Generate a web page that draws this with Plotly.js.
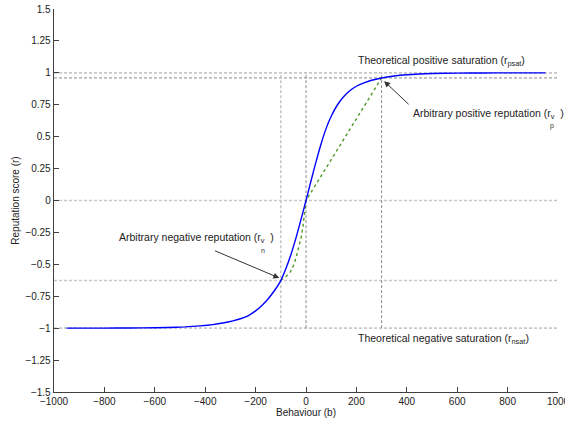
<!DOCTYPE html>
<html>
<head>
<meta charset="utf-8">
<script src="https://cdn.plot.ly/plotly-3.0.1.min.js"></script>
<style>
  html, body { margin: 0; padding: 0; background: #fff; }
  #chart { width: 565px; height: 421px; }
</style>
</head>
<body>
<div id="chart"></div>
<script>
// Reputation curve
const behaviour = [-950, -850, -750, -650, -550, -480, -420, -370, -330, -290, -260, -230, -200, -175, -150, -125, -100, -80, -60, -40, -20, 0, 20, 40, 60, 80, 100, 125, 150, 175, 200, 230, 260, 300, 350, 400, 450, 500, 600, 700, 800, 950];
const reputation = [-1.0, -1.0, -0.999, -0.998, -0.995, -0.99, -0.982, -0.972, -0.96, -0.943, -0.926, -0.903, -0.865, -0.823, -0.77, -0.705, -0.627, -0.535, -0.425, -0.295, -0.15, 0, 0.155, 0.305, 0.445, 0.565, 0.66, 0.75, 0.815, 0.862, 0.895, 0.922, 0.942, 0.96, 0.975, 0.985, 0.991, 0.995, 0.998, 0.999, 1.0, 1.0];

// Green dashed approximation path
const approxB = [-100, -78, -62, -49, -38.5, -28, -18.7, -12.1, -6.8, -3, 0, 300];
const approxR = [-0.627, -0.593, -0.559, -0.507, -0.441, -0.363, -0.284, -0.206, -0.127, -0.048, 0, 0.96];

// Reference values
const rPsat = 1, rNsat = -1, rVp = 0.96, rVn = -0.627;
const bVp = 300, bVn = -100, bZero = 0, rZero = 0;
const xRange = [-1000, 1000];
const yRange = [-1.5, 1.5];

const xTicks = [-1000, -800, -600, -400, -200, 0, 200, 400, 600, 800, 1000];
const xTickText = ['\u22121000', '\u2212800', '\u2212600', '\u2212400', '\u2212200', '0', '200', '400', '600', '800', '1000'];
const yTicks = [-1.5, -1.25, -1, -0.75, -0.5, -0.25, 0, 0.25, 0.5, 0.75, 1, 1.25, 1.5];
const yTickText = ['\u22121.5', '\u22121.25', '\u22121', '\u22120.75', '\u22120.5', '\u22120.25', '0', '0.25', '0.5', '0.75', '1', '1.25', '1.5'];

const light = {color: '#c8c8c8', width: 1.6, dash: '3px,2px'};
const dark = {color: '#8a8a8a', width: 1, dash: '3px,2px'};

function hline(y, style) {
  return {type: 'line', xref: 'x', yref: 'y', x0: xRange[0], x1: xRange[1], y0: y, y1: y, line: style, layer: 'below'};
}
function vline(x, style) {
  return {type: 'line', xref: 'x', yref: 'y', x0: x, x1: x, y0: rNsat, y1: rPsat, line: style, layer: 'below'};
}

const traces = [
  {x: approxB, y: approxR, mode: 'lines', line: {color: '#4f9a25', width: 1.4, dash: '3px,3px'}, hoverinfo: 'skip', showlegend: false},
  {x: behaviour, y: reputation, mode: 'lines', line: {color: '#0000ff', width: 1.4, shape: 'spline', smoothing: 0.5}, hoverinfo: 'skip', showlegend: false}
];

const fnt = {family: 'Liberation Sans, Arial, sans-serif', size: 10, color: '#222'};
const ann = {family: 'Liberation Sans, Arial, sans-serif', size: 10.5, color: '#222'};
const small = {family: 'Liberation Sans, Arial, sans-serif', size: 7, color: '#333'};

const layout = {
  width: 565, height: 421,
  margin: {l: 54, r: 7, t: 9, b: 29},
  paper_bgcolor: '#fff', plot_bgcolor: '#fff',
  showlegend: false,
  font: fnt,
  xaxis: {
    range: xRange, tickvals: xTicks, ticktext: xTickText,
    showgrid: false, zeroline: false, showline: true, linecolor: '#404040', linewidth: 1.3,
    ticks: 'inside', ticklen: 5, tickcolor: '#404040', tickwidth: 1,
    tickfont: fnt, mirror: false, ticklabeloverflow: 'allow',
    title: {text: 'Behaviour (b)', font: fnt, standoff: 2}
  },
  yaxis: {
    range: yRange, tickvals: yTicks, ticktext: yTickText,
    showgrid: false, zeroline: false, showline: true, linecolor: '#404040', linewidth: 1.3,
    ticks: 'inside', ticklen: 5, tickcolor: '#404040', tickwidth: 1,
    tickfont: fnt, mirror: false,
    title: {text: 'Reputation score (r)', font: fnt, standoff: 4}
  },
  shapes: [
    hline(rPsat, light), hline(rZero, light), hline(rVn, light), hline(rNsat, light),
    hline(rVp, dark),
    vline(bVn, light), vline(bZero, dark), vline(bVp, dark)
  ],
  annotations: [
    {x: 200, y: 1.095, xref: 'x', yref: 'y', xanchor: 'left', yanchor: 'middle', showarrow: false,
     text: 'Theoretical positive saturation (r<sub>psat</sub>)', font: ann},
    {x: 197, y: -1.085, xref: 'x', yref: 'y', xanchor: 'left', yanchor: 'middle', showarrow: false,
     text: 'Theoretical negative saturation (r<sub>nsat</sub>)', font: ann},
    {x: 415, y: 0.675, xref: 'x', yref: 'y', xanchor: 'left', yanchor: 'middle', showarrow: false,
     text: 'Arbitrary positive reputation (r<sub>v</sub>  )', font: ann},
    {x: 975, y: 0.585, xref: 'x', yref: 'y', xanchor: 'center', yanchor: 'middle', showarrow: false,
     text: 'p', font: small},
    {x: -750, y: -0.295, xref: 'x', yref: 'y', xanchor: 'left', yanchor: 'middle', showarrow: false,
     text: 'Arbitrary negative reputation (r<sub>v</sub>  )', font: ann},
    {x: -172, y: -0.39, xref: 'x', yref: 'y', xanchor: 'center', yanchor: 'middle', showarrow: false,
     text: 'n', font: small},
    {x: 310, y: 0.935, ax: 413, ay: 0.743, xref: 'x', yref: 'y', axref: 'x', ayref: 'y',
     text: '', showarrow: true, arrowhead: 2, arrowsize: 1.2, arrowwidth: 1, arrowcolor: '#333'},
    {x: -106, y: -0.607, ax: -367, ay: -0.389, xref: 'x', yref: 'y', axref: 'x', ayref: 'y',
     text: '', showarrow: true, arrowhead: 2, arrowsize: 1.2, arrowwidth: 1, arrowcolor: '#333'}
  ]
};

Plotly.newPlot('chart', traces, layout, {staticPlot: true, displayModeBar: false});
</script>
</body>
</html>
